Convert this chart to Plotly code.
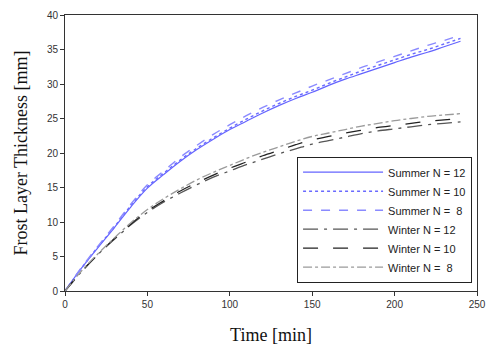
import plotly.graph_objects as go

time_min = [0, 10, 20, 30, 40, 50, 60, 70, 80, 90, 100, 110, 120, 130, 140, 150,
            160, 170, 180, 190, 200, 210, 220, 230, 240]

summer_n12 = [0, 3.3, 6.3, 9.2, 12.2, 14.9, 16.9, 18.8, 20.5, 22.0, 23.4, 24.6, 25.8,
              26.9, 27.9, 28.8, 29.8, 30.7, 31.5, 32.3, 33.1, 33.9, 34.6, 35.4, 36.2]
summer_n10 = [0, 3.3, 6.4, 9.3, 12.4, 15.1, 17.1, 19.0, 20.7, 22.2, 23.6, 24.9, 26.1,
              27.2, 28.2, 29.1, 30.1, 31.0, 31.9, 32.7, 33.5, 34.3, 35.0, 35.8, 36.6]
summer_n8 = [0, 3.4, 6.5, 9.5, 12.6, 15.4, 17.4, 19.4, 21.1, 22.7, 24.1, 25.4, 26.6,
             27.7, 28.7, 29.7, 30.6, 31.5, 32.4, 33.2, 34.0, 34.8, 35.6, 36.3, 37.1]
winter_n12 = [0, 2.8, 5.3, 7.5, 9.6, 11.4, 12.9, 14.2, 15.4, 16.5, 17.4, 18.3, 19.1,
              19.9, 20.6, 21.3, 21.8, 22.3, 22.8, 23.2, 23.5, 23.8, 24.1, 24.3, 24.5]
winter_n10 = [0, 2.8, 5.3, 7.6, 9.7, 11.6, 13.1, 14.5, 15.7, 16.8, 17.8, 18.7, 19.6,
              20.4, 21.2, 21.9, 22.4, 22.9, 23.3, 23.7, 24.0, 24.3, 24.6, 24.8, 25.0]
winter_n8 = [0, 2.9, 5.4, 7.7, 9.9, 11.8, 13.4, 14.8, 16.1, 17.2, 18.2, 19.2, 20.1,
             20.9, 21.7, 22.4, 22.9, 23.4, 23.9, 24.3, 24.7, 25.0, 25.3, 25.5, 25.7]

series_names = ["Summer N = 12", "Summer N = 10", "Summer N =  8",
                "Winter N = 12", "Winter N = 10", "Winter N =  8"]
series_values = [summer_n12, summer_n10, summer_n8, winter_n12, winter_n10, winter_n8]
styles = [
    dict(color="#6464ff", dash="solid", width=1.2),
    dict(color="#6a6aff", dash="dot", width=1.4),
    dict(color="#8a8aff", dash="dash", width=1.4),
    dict(color="#555555", dash="longdashdot", width=1.3),
    dict(color="#222222", dash="longdash", width=1.3),
    dict(color="#9a9a9a", dash="dashdot", width=1.3),
]

fig = go.Figure()
for name, vals, st in zip(series_names, series_values, styles):
    fig.add_trace(go.Scatter(x=time_min, y=vals, mode="lines", name=name,
                             line=dict(color=st["color"], dash=st["dash"],
                                       width=st["width"], shape="spline")))

axis_common = dict(showline=True, linecolor="#333333", linewidth=1, mirror=True,
                   ticks="outside", ticklen=4, tickcolor="#333333",
                   showgrid=False, zeroline=False, automargin=False,
                   tickfont=dict(family="Liberation Sans, Arial", size=10, color="#333333"))

# page body has an 8px default margin, so the figure is sized/offset to compensate
fig.update_layout(
    width=493, height=337,
    margin=dict(l=57, r=24, t=7, b=54),
    paper_bgcolor="white", plot_bgcolor="white",
    xaxis=dict(range=[0, 250], dtick=50,
               title=dict(text="Time [min]", standoff=20,
                          font=dict(family="Liberation Serif, Times New Roman", size=18, color="#111111")),
               **axis_common),
    yaxis=dict(range=[0, 40], dtick=5,
               title=dict(text="Frost Layer Thickness [mm]", standoff=14,
                          font=dict(family="Liberation Serif, Times New Roman", size=18, color="#111111")),
               **axis_common),
    legend=dict(x=0.988, y=0.03, xanchor="right", yanchor="bottom",
                bgcolor="white", bordercolor="#222222", borderwidth=1,
                font=dict(family="Liberation Sans, Arial", size=11, color="#222222"),
                tracegroupgap=0, itemwidth=80),
    showlegend=True,
)

fig.write_html("out.html")
